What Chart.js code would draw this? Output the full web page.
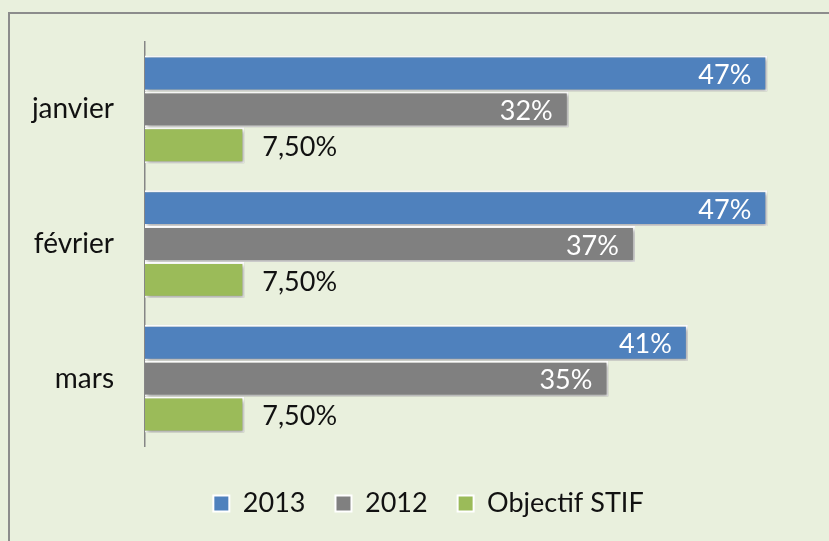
<!DOCTYPE html>
<html>
<head>
<meta charset="utf-8">
<script src="https://cdn.jsdelivr.net/npm/chart.js@4"></script>
<style>
  html, body { margin: 0; padding: 0; background: #e9f0dd; }
  #frame { position: absolute; left: 8px; top: 12px; width: 840px; height: 560px; border: 2px solid #8c8c8c; box-sizing: border-box; }
  #wrap { position: absolute; left: 0; top: 0; width: 829px; height: 541px; }
</style>
</head>
<body>
<div id="frame"></div>
<div id="wrap"><canvas id="chart1" width="829" height="541"></canvas></div>
<script>
const months = ['janvier', 'février', 'mars'];
const v2013 = [47, 47, 41];
const v2012 = [32, 37, 35];
const objectif = [7.5, 7.5, 7.5];

const fontFamily = 'Lato, "Open Sans", sans-serif';

function fmt(v) {
    return Number.isInteger(v) ? v + '%' : v.toFixed(2).replace('.', ',') + '%';
}

// shadow under the bars, like the office chart
const barShadow = {
    id: 'barShadow',
    beforeDatasetsDraw(chart) {
        const c = chart.ctx;
        c.save();
        c.shadowColor = 'rgba(0,0,0,0.35)';
        c.shadowBlur = 4;
        c.shadowOffsetX = 2;
        c.shadowOffsetY = 2;
    },
    afterDatasetsDraw(chart) {
        chart.ctx.restore();
    }
};

// value labels: inside end for the first two series, outside for the last
const valueLabels = {
    id: 'valueLabels',
    afterDatasetsDraw(chart) {
        const c = chart.ctx;
        c.save();
        c.font = '27px ' + fontFamily;
        c.textBaseline = 'middle';
        chart.data.datasets.forEach((ds, i) => {
            chart.getDatasetMeta(i).data.forEach((bar, j) => {
                const txt = fmt(ds.data[j]);
                if (i < 2) {
                    c.fillStyle = '#ffffff';
                    c.textAlign = 'right';
                    c.fillText(txt, bar.x - 16, bar.y + 2);
                } else {
                    c.fillStyle = '#111111';
                    c.textAlign = 'left';
                    c.fillText(txt, bar.x + 18, bar.y + 2);
                }
            });
        });
        c.restore();
    }
};

// legend sits a bit right of the canvas centre in the original
const legendShift = {
    id: 'legendShift',
    afterLayout(chart) {
        chart.legend.left += 25;
        chart.legend.right += 25;
    }
};

const ctx = document.getElementById('chart1').getContext('2d');
const chart1 = new Chart(ctx, {
    type: 'bar',
    data: {
        labels: months,
        datasets: [
            { label: '2013', data: v2013, backgroundColor: '#4f81bd' },
            { label: '2012', data: v2012, backgroundColor: '#808080' },
            { label: 'Objectif STIF', data: objectif, backgroundColor: '#9bbb59' }
        ]
    },
    options: {
        indexAxis: 'y',
        responsive: false,
        animation: false,
        layout: {
            padding: { top: 42, right: 22, bottom: 14, left: 0 }
        },
        datasets: {
            bar: {
                borderColor: '#ffffff',
                borderWidth: 2,
                barPercentage: 1,
                categoryPercentage: 0.8
            }
        },
        scales: {
            x: {
                min: 0,
                max: 50,
                afterFit(scale) { scale.height = 14; },
                grid: { display: false, drawTicks: false },
                border: { display: false },
                ticks: { display: false }
            },
            y: {
                afterFit(scale) {
                    scale.width = 145;
                    scale.paddingTop = 0;
                    scale.paddingBottom = 0;
                },
                grid: { display: false, drawTicks: false },
                border: { display: true, color: '#868686', width: 1.5 },
                ticks: {
                    padding: 31,
                    color: '#111111',
                    font: { family: fontFamily, size: 28 }
                }
            }
        },
        plugins: {
            legend: {
                position: 'bottom',
                labels: {
                    boxWidth: 16,
                    boxHeight: 16,
                    padding: 30,
                    color: '#111111',
                    font: { family: fontFamily, size: 27 }
                }
            },
            tooltip: { enabled: false }
        }
    },
    plugins: [barShadow, valueLabels, legendShift]
});
</script>
</body>
</html>
